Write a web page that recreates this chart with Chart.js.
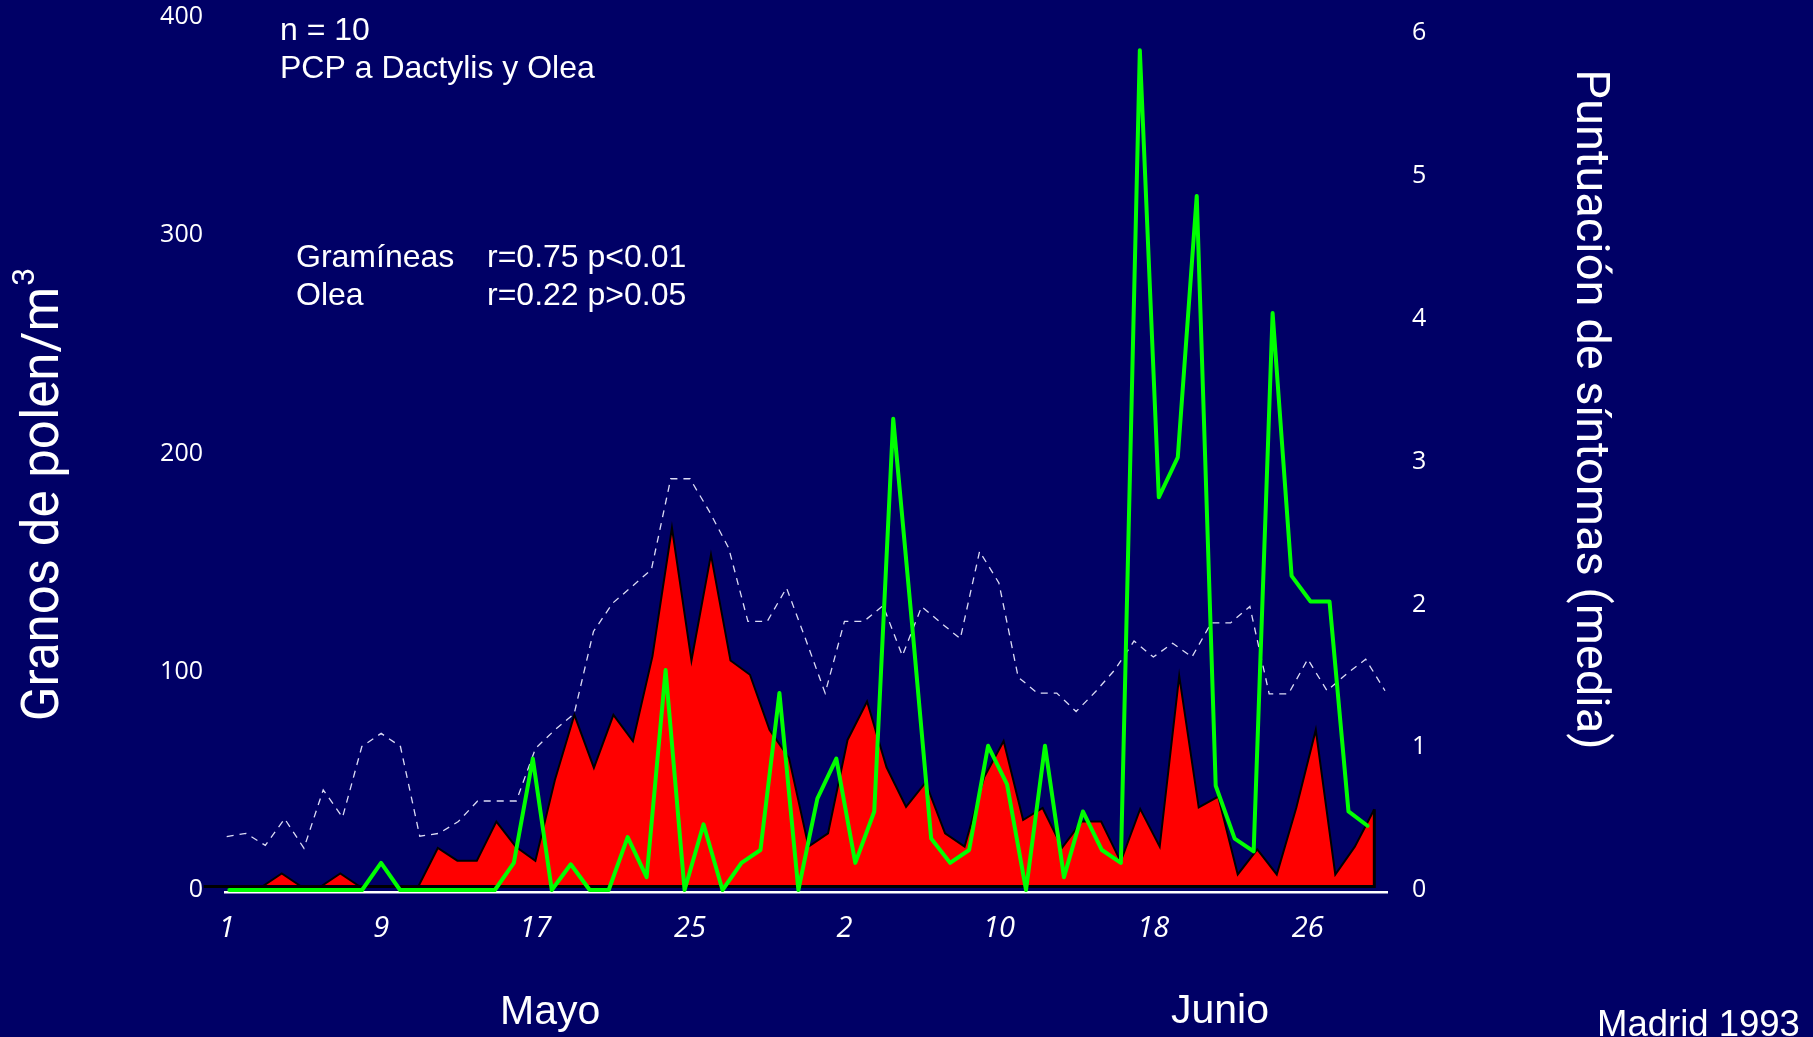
<!DOCTYPE html>
<html lang="es">
<head>
<meta charset="utf-8">
<title>Polen y síntomas - Madrid 1993</title>
<script src="https://cdn.jsdelivr.net/npm/chart.js@4.4.1/dist/chart.umd.min.js"></script>
<style>
  html, body { margin: 0; padding: 0; background: #000066; overflow: hidden; }
  canvas { display: block; }
</style>
</head>
<body>
<canvas id="grafico" width="1813" height="1037"></canvas>
<script>
// dias de mayo y junio
const dias = ['1', '2', '3', '4', '5', '6', '7', '8', '9', '10', '11', '12', '13', '14', '15', '16',
    '17', '18', '19', '20', '21', '22', '23', '24', '25', '26', '27', '28', '29', '30', '31',
    '1', '2', '3', '4', '5', '6', '7', '8', '9', '10', '11', '12', '13', '14', '15', '16',
    '17', '18', '19', '20', '21', '22', '23', '24', '25', '26', '27', '28', '29', '30'];

// granos de polen/m3 (area roja)
const gramineas = [0, 0, 0, 6, 0, 0, 6, 0, 0, 0,
    0, 17.6, 11.8, 11.8, 29.7, 18.2, 11.8, 48.7, 78.5, 54.2,
    78.5, 66.4, 105.2, 164, 103.3, 151.7, 103.3, 96.8, 71.6, 58.8,
    18.2, 24.3, 67, 84.6, 54.5, 36.4, 47.6, 24.3, 18.2, 49.9,
    66.5, 30.4, 35.9, 17.8, 29.7, 29.7, 11.4, 35.5, 18.2, 96.3,
    36.2, 41.1, 5.5, 17, 5.5, 36, 71.6, 5.5, 18.2, 35.3];

// olea (linea discontinua)
const olea = [22.8, 24.3, 18.8, 31, 17.5, 44.2, 31.6, 64, 70, 64,
    23, 24.3, 29.7, 39.1, 39.1, 39.1, 63.2, 71.6, 79, 116.6,
    129.6, 137.2, 144.9, 186.4, 186.4, 171.5, 154.8, 121.2, 121.2, 136.5,
    112.8, 88.4, 121.2, 121.2, 128.4, 105.5, 128, 120.5, 113.3, 153.2,
    138.8, 95.7, 88.4, 88.4, 80, 89, 99, 112.2, 104.9, 111.2,
    104.9, 120.5, 120.5, 128, 88.1, 88.1, 103.9, 89.5, 97.1, 103.9,
    89.5];

// puntuacion de sintomas (media)
const sintomas = [0, 0, 0, 0, 0, 0, 0, 0, 0.19, 0,
    0, 0, 0, 0, 0, 0.19, 0.92, 0, 0.18, 0,
    0, 0.37, 0.09, 1.54, 0, 0.46, 0, 0.19, 0.28, 1.38,
    0, 0.64, 0.92, 0.19, 0.55, 3.30, 1.85, 0.36, 0.19, 0.28,
    1.01, 0.74, 0, 1.01, 0.09, 0.55, 0.28, 0.19, 5.88, 2.75,
    3.03, 4.86, 0.73, 0.36, 0.27, 4.04, 2.20, 2.02, 2.02, 0.55,
    0.45];

const ticksPolen = [0, 100, 200, 300, 400];
const ticksSintomas = [0, 1, 2, 3, 4, 5, 6];

const puntos = (serie) => serie.map((v, i) => ({ x: i, y: v }));

// sin margen extra por las etiquetas de los ejes
const sinDesborde = (ax) => {
    ax.paddingTop = 0;
    ax.paddingBottom = 0;
    ax.paddingLeft = 0;
    ax.paddingRight = 0;
};

// linea negra bajo el area roja y borde derecho
const lineaBase = {
    id: 'lineaBase',
    afterDatasetDraw(chart, args) {
        if (args.meta.xAxisID !== 'xGram') return;
        const ctx = chart.ctx;
        const pts = args.meta.data;
        const ultimo = pts[pts.length - 1];
        const y0 = chart.scales.yPolen.getPixelForValue(0);
        ctx.save();
        ctx.strokeStyle = '#000000';
        ctx.lineWidth = 3;
        ctx.beginPath();
        ctx.moveTo(chart.scales.xGram.getPixelForValue(-1), y0);
        ctx.lineTo(ultimo.x, y0);
        ctx.lineTo(ultimo.x, ultimo.y);
        ctx.stroke();
        ctx.restore();
    }
};

const textos = {
    id: 'textos',
    afterDraw(chart) {
        const ctx = chart.ctx;
        ctx.save();
        ctx.fillStyle = '#ffffff';
        ctx.textBaseline = 'alphabetic';
        ctx.textAlign = 'left';

        ctx.font = '32px "Liberation Sans", Arial, sans-serif';
        ctx.fillText('n = 10', 280, 40);
        ctx.fillText('PCP a Dactylis y Olea', 280, 78);
        ctx.fillText('Gramíneas', 296, 267);
        ctx.fillText('r=0.75 p<0.01', 487, 267);
        ctx.fillText('Olea', 296, 305);
        ctx.fillText('r=0.22 p>0.05', 487, 305);

        ctx.font = '41px "Liberation Sans", Arial, sans-serif';
        ctx.fillText('Mayo', 500, 1024);
        ctx.fillText('Junio', 1171, 1023);
        ctx.font = '36.5px "Liberation Sans", Arial, sans-serif';
        ctx.fillText('Madrid 1993', 1597, 1036);

        // titulo eje izquierdo
        ctx.save();
        ctx.translate(58, 495);
        ctx.rotate(-Math.PI / 2);
        const principal = 'Granos de polen/m';
        ctx.font = '51px Roboto, sans-serif';
        const wP = ctx.measureText(principal).width;
        ctx.font = '32px Roboto, sans-serif';
        const wS = ctx.measureText('3').width;
        const x0 = -(wP + wS) / 2;
        ctx.font = '51px Roboto, sans-serif';
        ctx.fillText(principal, x0, 0);
        ctx.font = '32px Roboto, sans-serif';
        ctx.fillText('3', x0 + wP + 1, -24);
        ctx.restore();

        // titulo eje derecho
        ctx.save();
        ctx.translate(1577, 409.5);
        ctx.rotate(Math.PI / 2);
        ctx.font = '47px Roboto, sans-serif';
        ctx.textAlign = 'center';
        ctx.fillText('Puntuación de síntomas (media)', 0, 0);
        ctx.restore();

        ctx.restore();
    }
};

const fuenteTicks = { family: '"Open Sans", sans-serif', size: 25 };

new Chart('grafico', {
    type: 'line',
    data: {
        datasets: [
            {
                label: 'Síntomas',
                data: puntos(sintomas),
                xAxisID: 'xSint',
                yAxisID: 'ySint',
                borderColor: '#00ff00',
                borderWidth: 4,
                borderJoinStyle: 'round',
                borderCapStyle: 'round',
                pointRadius: 0,
                fill: false,
                order: 0,
            },
            {
                label: 'Olea',
                data: puntos(olea),
                xAxisID: 'x',
                yAxisID: 'yPolen',
                borderColor: '#dcdcf5',
                borderWidth: 1.3,
                borderDash: [7, 6],
                pointRadius: 0,
                fill: false,
                order: 1,
            },
            {
                label: 'Gramíneas',
                data: puntos(gramineas),
                xAxisID: 'xGram',
                yAxisID: 'yPolen',
                borderColor: '#000000',
                borderWidth: 2,
                backgroundColor: '#ff0000',
                borderJoinStyle: 'miter',
                pointRadius: 0,
                fill: 'origin',
                order: 2,
            },
        ]
    },
    options: {
        responsive: false,
        devicePixelRatio: 1,
        animation: false,
        layout: { padding: { top: 17, left: 0, right: 0, bottom: 0 } },
        plugins: {
            legend: { display: false },
            tooltip: { enabled: false },
        },
        elements: {
            line: { tension: 0 }
        },
        scales: {
            x: {
                type: 'linear',
                position: 'bottom',
                min: -0.088,
                max: 60.104,
                afterBuildTicks: (ax) => {
                    ax.ticks = dias.map((d, i) => ({ value: i })).filter((t) => t.value % 8 === 0);
                },
                afterFit: (ax) => { ax.height = 145; sinDesborde(ax); },
                grid: { display: false, drawTicks: false },
                border: { display: true, color: '#ffffff', width: 2.5 },
                ticks: {
                    color: '#ffffff',
                    font: { family: '"Open Sans", sans-serif', size: 29, style: 'italic' },
                    padding: 19,
                    autoSkip: false,
                    maxRotation: 0,
                    callback: (v) => dias[v],
                }
            },
            xGram: { type: 'linear', display: false, min: 0.092, max: 59.65 },
            xSint: { type: 'linear', display: false, min: -0.227, max: 61.03 },
            y: {
                position: 'left',
                min: -0.8,
                max: 400,
                afterBuildTicks: (ax) => { ax.ticks = ticksPolen.map((v) => ({ value: v })); },
                afterFit: (ax) => { ax.width = 225; sinDesborde(ax); },
                grid: { display: false, drawTicks: false },
                border: { display: false },
                ticks: { color: '#ffffff', font: fuenteTicks, padding: 22 }
            },
            yPolen: { display: false, min: -2.51, max: 397.5 },
            ySint: {
                position: 'right',
                min: -0.014,
                max: 6.113,
                afterBuildTicks: (ax) => { ax.ticks = ticksSintomas.map((v) => ({ value: v })); },
                afterFit: (ax) => { ax.width = 426; sinDesborde(ax); },
                grid: { display: false, drawTicks: false },
                border: { display: false },
                ticks: { color: '#ffffff', font: fuenteTicks, padding: 25 }
            }
        }
    },
    plugins: [lineaBase, textos]
});
</script>
</body>
</html>
